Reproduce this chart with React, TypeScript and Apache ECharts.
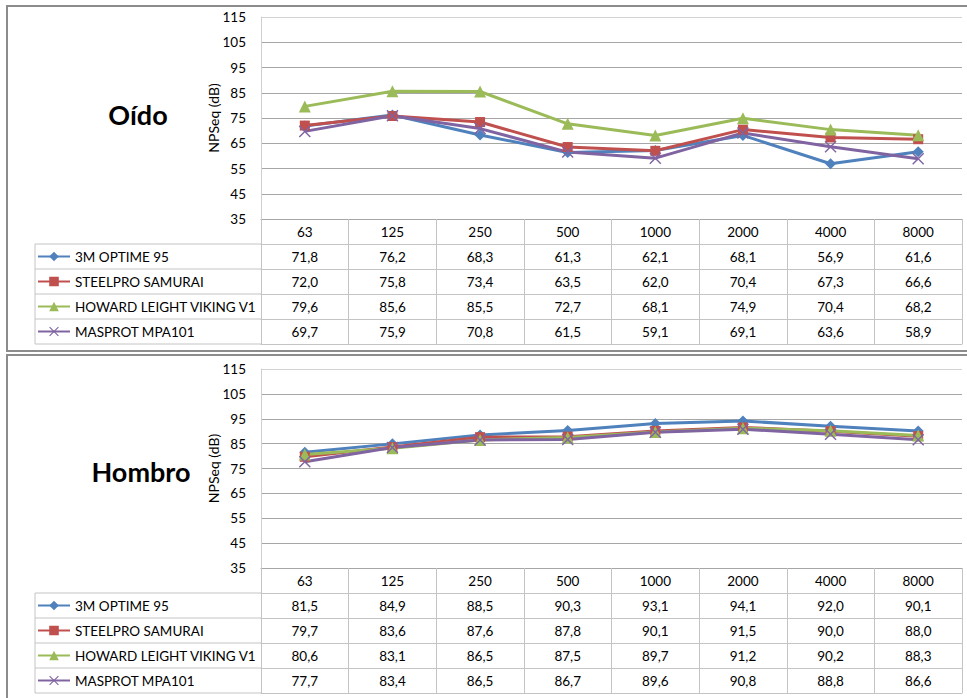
import React, { useEffect, useRef } from "react";
import * as echarts from "echarts";

const categories = ["63", "125", "250", "500", "1000", "2000", "4000", "8000"];
const seriesNames = ["3M OPTIME 95", "STEELPRO SAMURAI", "HOWARD LEIGHT VIKING V1", "MASPROT MPA101"];
const chartTitles = ["Oído", "Hombro"];
const yTicks = { min: 35, max: 115, interval: 10 };

const oido3M = [71.8, 76.2, 68.3, 61.3, 62.1, 68.1, 56.9, 61.6];
const oidoSteelpro = [72.0, 75.8, 73.4, 63.5, 62.0, 70.4, 67.3, 66.6];
const oidoHoward = [79.6, 85.6, 85.5, 72.7, 68.1, 74.9, 70.4, 68.2];
const oidoMasprot = [69.7, 75.9, 70.8, 61.5, 59.1, 69.1, 63.6, 58.9];

const hombro3M = [81.5, 84.9, 88.5, 90.3, 93.1, 94.1, 92.0, 90.1];
const hombroSteelpro = [79.7, 83.6, 87.6, 87.8, 90.1, 91.5, 90.0, 88.0];
const hombroHoward = [80.6, 83.1, 86.5, 87.5, 89.7, 91.2, 90.2, 88.3];
const hombroMasprot = [77.7, 83.4, 86.5, 86.7, 89.6, 90.8, 88.8, 86.6];

const oidoData = [oido3M, oidoSteelpro, oidoHoward, oidoMasprot];
const hombroData = [hombro3M, hombroSteelpro, hombroHoward, hombroMasprot];

const COLORS = ["#4F81BD", "#C0504D", "#9BBB59", "#8064A2"];
const X_PATH =
  "path://M0,1L1,0L6,5L11,0L12,1L7,6L12,11L11,12L6,7L1,12L0,11L5,6Z";
const SYMBOLS = ["diamond", "rect", "triangle", X_PATH];
const SYMBOL_SIZES = [11, 10, 12, 12];

const FONT = "Lato";
const TABLE_LINE = "#c4c4c4";
const GRID_LINE = "#a6a6a6";
const ROW_H = 25;

const fmt = (v: number) => v.toFixed(1).replace(".", ",");

export default function App() {
  const ref = useRef<HTMLDivElement>(null);

  useEffect(() => {
    if (!ref.current) return;
    const chart = echarts.init(ref.current, undefined, { renderer: "svg" });

    const panels = [
      { data: oidoData, top: 17, height: 202, titleX: 138, titleY: 114 },
      { data: hombroData, top: 369, height: 199, titleX: 141, titleY: 471 },
    ];

    const grids: any[] = [];
    const xAxes: any[] = [];
    const yAxes: any[] = [];
    const series: any[] = [];
    const legends: any[] = [];
    const graphics: any[] = [];

    // outer frames
    graphics.push({
      type: "rect",
      shape: { x: 7, y: 6, width: 975, height: 345 },
      style: { fill: "none", stroke: "#8c8c8c", lineWidth: 2 },
      silent: true,
    });
    graphics.push({
      type: "rect",
      shape: { x: 7, y: 355, width: 975, height: 360 },
      style: { fill: "none", stroke: "#8c8c8c", lineWidth: 2 },
      silent: true,
    });

    panels.forEach((p, gi) => {
      grids.push({ left: 261, right: 5, top: p.top, height: p.height, outerBoundsMode: "none" });
      const bottom = p.top + p.height;
      const baseX = xAxes.length;

      // category row
      xAxes.push({
        type: "category",
        gridIndex: gi,
        position: "bottom",
        data: categories,
        boundaryGap: true,
        axisLine: { show: true, lineStyle: { color: GRID_LINE, width: 1 } },
        axisTick: { show: true, interval: 0, length: ROW_H, lineStyle: { color: TABLE_LINE } },
        axisLabel: {
          interval: 0,
          margin: ROW_H / 2,
          verticalAlign: "middle",
          fontFamily: FONT,
          fontSize: 13.5,
          color: "#000",
        },
      });
      // value rows
      p.data.forEach((vals, si) => {
        xAxes.push({
          type: "category",
          gridIndex: gi,
          position: "bottom",
          offset: ROW_H * (si + 1),
          data: vals.map(fmt),
          boundaryGap: true,
          axisLine: { show: true, lineStyle: { color: TABLE_LINE, width: 1 } },
          axisTick: { show: true, interval: 0, length: ROW_H, lineStyle: { color: TABLE_LINE } },
          axisLabel: {
            interval: 0,
            margin: ROW_H / 2,
            verticalAlign: "middle",
            fontFamily: FONT,
            fontSize: 13.5,
            color: "#000",
          },
        });
      });
      // closing line
      xAxes.push({
        type: "category",
        gridIndex: gi,
        position: "bottom",
        offset: ROW_H * (p.data.length + 1),
        data: categories,
        axisLine: { show: true, lineStyle: { color: TABLE_LINE, width: 1 } },
        axisTick: { show: false },
        axisLabel: { show: false },
      });

      yAxes.push({
        type: "value",
        gridIndex: gi,
        min: yTicks.min,
        max: yTicks.max,
        interval: yTicks.interval,
        name: "NPSeq (dB)",
        nameLocation: "middle",
        nameGap: 41,
        nameMoveOverlap: false,
        nameTextStyle: { fontFamily: FONT, fontSize: 14, color: "#000" },
        axisLine: { show: true, lineStyle: { color: "#cfcfcf", width: 1 } },
        axisTick: { show: false },
        axisLabel: { margin: 15, fontFamily: FONT, fontSize: 13.5, color: "#000" },
        splitLine: {
          show: true,
          lineStyle: {
            color: [GRID_LINE, GRID_LINE, GRID_LINE, GRID_LINE, GRID_LINE, GRID_LINE, GRID_LINE, GRID_LINE, "#d2d2d2"],
            width: 1,
          },
        },
      });

      p.data.forEach((vals, si) => {
        series.push({
          type: "line",
          name: seriesNames[si],
          xAxisIndex: baseX,
          yAxisIndex: gi,
          data: vals,
          symbol: SYMBOLS[si],
          symbolSize: SYMBOL_SIZES[si],
          showAllSymbol: true,
          lineStyle: { color: COLORS[si], width: 3 },
          itemStyle: { color: COLORS[si] },
          emphasis: { disabled: true },
        });

        // one legend per row, so each sits exactly in its table row
        legends.push({
          orient: "vertical",
          left: 37,
          top: bottom + ROW_H * (si + 1) + ROW_H / 2 - 7,
          padding: 0,
          itemWidth: 32,
          itemHeight: 12,
          selectedMode: false,
          data: [seriesNames[si]],
          textStyle: { fontFamily: FONT, fontSize: 13.5, color: "#000" },
        });
      });

      // legend column lines
      for (let r = 1; r <= p.data.length + 1; r++) {
        graphics.push({
          type: "line",
          shape: { x1: 35, y1: bottom + ROW_H * r, x2: 261, y2: bottom + ROW_H * r },
          style: { stroke: TABLE_LINE, lineWidth: 1 },
          silent: true,
        });
      }
      graphics.push({
        type: "line",
        shape: { x1: 35, y1: bottom + ROW_H, x2: 35, y2: bottom + ROW_H * (p.data.length + 1) },
        style: { stroke: TABLE_LINE, lineWidth: 1 },
        silent: true,
      });

      graphics.push({
        type: "text",
        x: p.titleX,
        y: p.titleY,
        style: {
          text: chartTitles[gi],
          fontFamily: FONT,
          fontSize: 27,
          fontWeight: "bold",
          fill: "#000",
          align: "center",
          verticalAlign: "middle",
        },
        silent: true,
      });
    });

    chart.setOption({
      animation: false,
      backgroundColor: "#fff",
      grid: grids,
      xAxis: xAxes,
      yAxis: yAxes,
      series,
      legend: legends,
      graphic: graphics,
    });

    return () => chart.dispose();
  }, []);

  return (
    <div
      ref={ref}
      style={{ position: "fixed", left: 0, top: 0, width: 967, height: 698, background: "#fff" }}
    />
  );
}
